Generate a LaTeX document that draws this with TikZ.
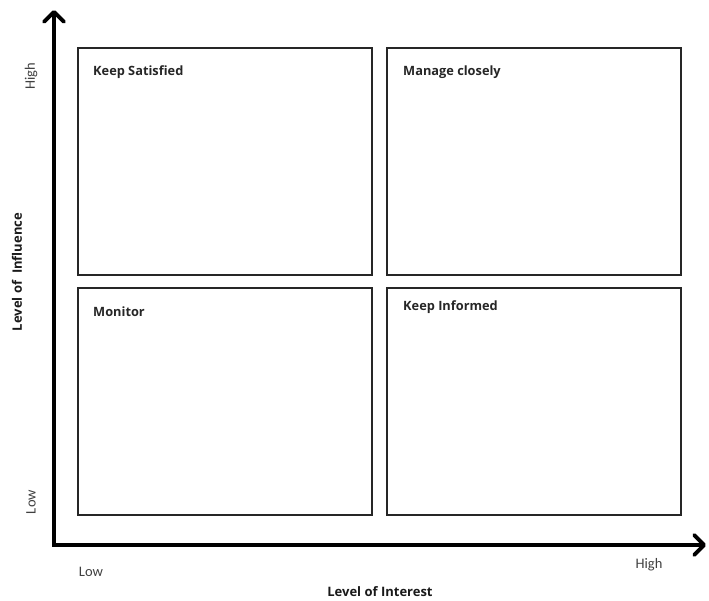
\documentclass[tikz,border=0pt]{standalone}
\usepackage{fontspec}
\setmainfont{Open Sans}
\newfontfamily\lowhigh{Carlito}
\usetikzlibrary{arrows.meta}
\begin{document}
\begin{tikzpicture}[x=1pt,y=-1pt,
  quad/.style={draw=black!85,line width=1.6pt,minimum width=294pt,minimum height=227pt,inner sep=0pt,outer sep=0pt},
  qlabel/.style={anchor=west,font=\bfseries\fontsize{12.8}{15}\selectfont,text=black!85,inner sep=0pt},
  axis/.style={line width=4.4pt,-{Straight Barb[length=10pt,width=20pt,line width=3.8pt,round]}},
  tick/.style={font=\lowhigh\fontsize{14.5}{17}\selectfont,text=black!75,inner sep=0pt},
  axislabel/.style={font=\bfseries\fontsize{13}{15}\selectfont,text=black!90,inner sep=0pt}]
\useasboundingbox (0,0) rectangle (709,600);
% axes
\coordinate (origin) at (54,545);
\coordinate (ytip) at (54,10);
\coordinate (xtip) at (706,545);
\draw[axis] (52,545) -- (origin) -- (ytip);
\draw[axis] (origin) -- (xtip);
% quadrants
\node[quad,anchor=north west] (ks) at (78,48) {};
\node[quad,anchor=north west] (mc) at (387,48) {};
\node[quad,anchor=north west] (mo) at (78,288) {};
\node[quad,anchor=north west] (ki) at (387,288) {};
\node[qlabel] (ksl) at (93,72) {Keep Satisfied};
\node[qlabel] (mcl) at (403,72) {Manage closely};
\node[qlabel] (mol) at (93,312) {Monitor};
\node[qlabel] (kil) at (403,307) {Keep Informed};
% scale ends
\node[tick,rotate=90] (yhigh) at (31,76) {High};
\node[tick,rotate=90] (ylow) at (31,502) {Low};
\node[tick] (xlow) at (91,572) {Low};
\node[tick] (xhigh) at (649,565) {High};
% axis titles
\node[axislabel] (xtitle) at (380,592) {Level of Interest};
\node[axislabel,rotate=90] (ytitle) at (17,272) {Level of\ \ Influence};
\end{tikzpicture}
\end{document}
